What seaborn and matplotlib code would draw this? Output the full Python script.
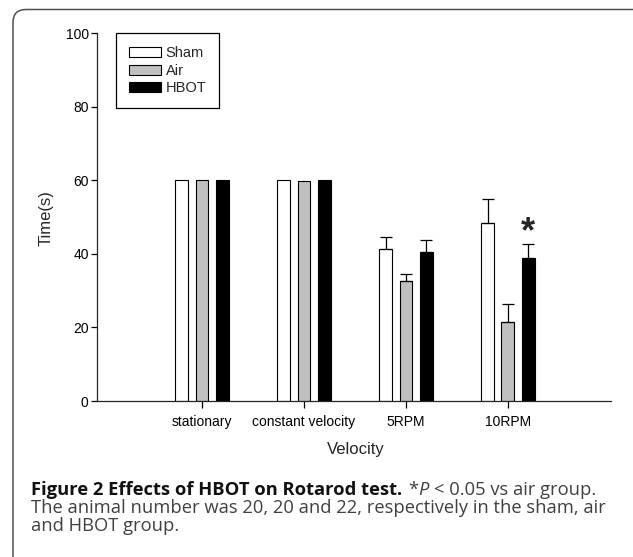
import numpy as np
import pandas as pd
import matplotlib
matplotlib.use('Agg')
import matplotlib.pyplot as plt
import seaborn as sns
from matplotlib.patches import FancyBboxPatch, Patch
from matplotlib.transforms import IdentityTransform

# dati
velocity = ['stationary', 'constant velocity', '5RPM', '10RPM']
groups = ['Sham', 'Air', 'HBOT']
sham_mean = [60.0, 60.0, 41.2, 48.3]
air_mean = [60.0, 59.8, 32.6, 21.6]
hbot_mean = [60.0, 60.0, 40.6, 38.9]
sham_sem = [0.0, 0.0, 3.4, 6.7]
air_sem = [0.0, 0.0, 1.9, 4.8]
hbot_sem = [0.0, 0.0, 3.2, 3.8]
y_ticks = [0, 20, 40, 60, 80, 100]
bar_colors = ['white', '#c0c0c0', 'black']

means = [sham_mean, air_mean, hbot_mean]
sems = [sham_sem, air_sem, hbot_sem]

df = pd.DataFrame({
    'Velocity': velocity * 3,
    'Group': [g for g in groups for _ in velocity],
    'Time': sham_mean + air_mean + hbot_mean,
})

sns.set_style('ticks')
plt.rcParams['font.family'] = ['Liberation Sans', 'DejaVu Sans']

fig = plt.figure(figsize=(6.33, 5.57), dpi=100)
ax = fig.add_axes([0.1532, 0.280, 0.812, 0.6607])

sns.barplot(data=df, x='Velocity', y='Time', hue='Group', order=velocity,
            hue_order=groups, palette=bar_colors, saturation=1,
            edgecolor='black', linewidth=0.8, width=0.6, gap=0.365,
            errorbar=None, legend=False, ax=ax)

# barre di errore solo verso l'alto
for cont, sem in zip(ax.containers, sems):
    for bar, e in zip(cont, sem):
        if e > 0:
            xc = bar.get_x() + bar.get_width() / 2
            ax.errorbar(xc, bar.get_height(), yerr=[[0], [e]], fmt='none',
                        ecolor='black', elinewidth=0.9, capsize=4, capthick=0.9)

# asterisco sopra HBOT a 10RPM
star_bar = ax.containers[2][3]
ax.text(star_bar.get_x() + star_bar.get_width() / 2,
        star_bar.get_height() + hbot_sem[3] + 0.4, '*',
        ha='center', va='baseline', fontsize=26, fontweight='bold')

ax.set_xlim(-1.03, 4.01)
ax.set_ylim(0, 100)
ax.set_yticks(y_ticks)
sns.despine(ax=ax)
for s in ['left', 'bottom']:
    ax.spines[s].set_linewidth(0.9)
ax.tick_params(axis='both', labelsize=10, width=0.9, colors='black')
ax.tick_params(axis='y', length=4, pad=2)
ax.tick_params(axis='x', length=5, pad=5)
ax.set_xlabel('Velocity', fontsize=12)
ax.set_ylabel('Time(s)', fontsize=12)
ax.xaxis.set_label_coords(0.504, -0.112)
ax.yaxis.set_label_coords(-0.085, 0.496)

handles = [Patch(facecolor=c, edgecolor='black', linewidth=0.8) for c in bar_colors]
leg = ax.legend(handles, groups, loc='upper left', bbox_to_anchor=(0.037, 1.0),
                borderaxespad=0, frameon=True, fancybox=False, framealpha=1,
                edgecolor='black', fontsize=10.5, handlelength=2.2,
                handleheight=0.68, handletextpad=0.3, labelspacing=0.24,
                borderpad=0.9)
leg.get_frame().set_linewidth(0.9)

# cornice arrotondata della figura (coordinate in pixel)
border = FancyBboxPatch((13, -30), 700, 557 - 9.5 + 30,
                        boxstyle='round,pad=0,rounding_size=13',
                        transform=IdentityTransform(), facecolor='none',
                        edgecolor='#505050', linewidth=1.1)
fig.patches.append(border)

# didascalia
cap_font = ['Open Sans', 'DejaVu Sans']
cap_size = 13.2
renderer = fig.canvas.get_renderer()
W, H = 633, 557


def put(x_px, y_px, s, **kw):
    t = fig.text(x_px / W, 1 - y_px / H, s, fontsize=cap_size, family=cap_font,
                 va='baseline', ha='left', **kw)
    return t, t.get_window_extent(renderer).width


probe1 = fig.text(0, 0, 'x x', fontsize=cap_size, family=cap_font)
probe2 = fig.text(0, 0, 'xx', fontsize=cap_size, family=cap_font)
space = probe1.get_window_extent(renderer).width - probe2.get_window_extent(renderer).width
probe1.remove()
probe2.remove()

x0 = 31
x = x0
_, w = put(x, 495, 'Figure 2 Effects of HBOT on Rotarod test.', fontweight='bold', color='#111111')
x += w + space * 1.3
_, w = put(x, 495, '*', color='#404040')
x += w
_, w = put(x, 495, 'P', color='#404040', style='italic')
x += w + space * 1.2
put(x, 495, '< 0.05 vs air group.', color='#404040')
put(x0, 513, 'The animal number was 20, 20 and 22, respectively in the sham, air', color='#404040')
put(x0, 531, 'and HBOT group.', color='#404040')

fig.savefig('out.png', dpi=100)
